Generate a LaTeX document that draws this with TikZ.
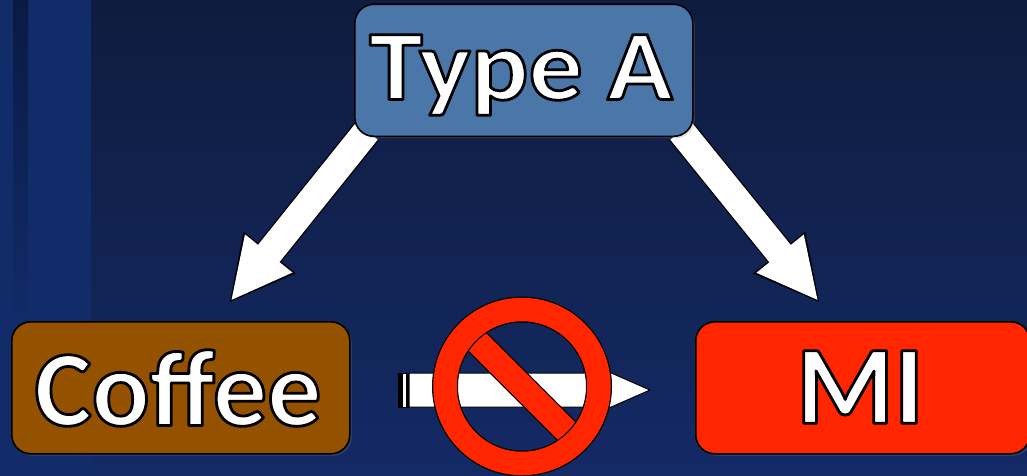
\documentclass[tikz,border=0pt]{standalone}
\usepackage{fontspec}
\setmainfont{Carlito}
\newfontfamily\widefont[FakeStretch=1.08]{Carlito}
\usepackage{xcolor}
\definecolor{bgtop}{HTML}{0F1C3E}
\definecolor{bgbot}{HTML}{142A66}
\definecolor{bandblue}{HTML}{122B69}
\definecolor{stripedark}{HTML}{0A1A44}
\definecolor{typeblue}{HTML}{4A76A8}
\definecolor{coffeebrown}{HTML}{945200}
\definecolor{mired}{HTML}{FF2600}
\usepackage{tikz}
\usetikzlibrary{arrows.meta,shadows}
% white letters with a black edge
\newcommand{\edgetext}[1]{\special{pdf:code q 1 j 2 Tr 2.8 w 0 0 0 RG 1 1 1 rg}#1\special{pdf:code Q}}

\begin{document}
\begin{tikzpicture}[
  x=1pt, y=-1pt,
  boxnode/.style={draw=black, line width=1.6pt, rounded corners=19pt,
    inner sep=0pt, anchor=north west, minimum height=132pt,
    drop shadow={opacity=.25, shadow xshift=2pt, shadow yshift=-2pt}},
  widelabel/.style={inner sep=0pt, font=\widefont\bfseries\fontsize{100}{100}\selectfont},
  talllabel/.style={inner sep=0pt, font=\bfseries\fontsize{112}{112}\selectfont},
  arrback/.style={-{Triangle[length=65pt, width=62pt]}, black, line width=30pt},
  arrfront/.style={-{Triangle[length=61pt, width=56pt]}, white, line width=27.5pt, shorten >=2.5pt}
]
\useasboundingbox (0,0) rectangle (1027,476);
% background
\shade[top color=bgtop, bottom color=bgbot] (0,0) rectangle (1027,476);
\fill[bandblue] (0,0) rectangle (91,476);
\shade[top color=stripedark, bottom color=bandblue] (13,0) rectangle (28,330);

\coordinate (leftstart) at (367,131);
\coordinate (lefttip) at (229,303);
\coordinate (rightstart) at (681,131);
\coordinate (righttip) at (820,303);
\draw[arrback] (leftstart) -- (lefttip);
\draw[arrfront] (leftstart) -- (lefttip);
\draw[arrback] (rightstart) -- (righttip);
\draw[arrfront] (rightstart) -- (righttip);

\node[boxnode, fill=typeblue, minimum width=338pt] (typea) at (354,3.5) {};
\node[boxnode, fill=coffeebrown, minimum width=338pt] (coffee) at (11,321) {};
\node[boxnode, fill=mired, minimum width=334pt] (mi) at (695,321) {};
\node[widelabel] (typetext) at (521,75) {\edgetext{Type A}};
\node[talllabel, font=\bfseries\fontsize{108}{108}\selectfont] (coffeetext) at (178,388) {\edgetext{Coffee}};
\node[talllabel] (mitext) at (860,387) {\edgetext{MI}};

% crossed out arrow
\fill[black] (398,373) rectangle (409,408);
\fill[white] (403,374) rectangle (406,407);
\draw[black, fill=white, line width=1pt] (409,373) -- (584,373) -- (584,361) -- (650,390) -- (584,419) -- (584,407) -- (409,407) -- cycle;
\begin{scope}
  \clip (522,386.5) circle (70);
  \draw[black, line width=27pt] (460,324.5) -- (584,448.5);
  \draw[mired, line width=24.5pt] (460,324.5) -- (584,448.5);
\end{scope}
\draw[black, line width=26pt] (522,386.5) circle (77);
\draw[mired, line width=23.5pt] (522,386.5) circle (77);
\end{tikzpicture}
\end{document}
